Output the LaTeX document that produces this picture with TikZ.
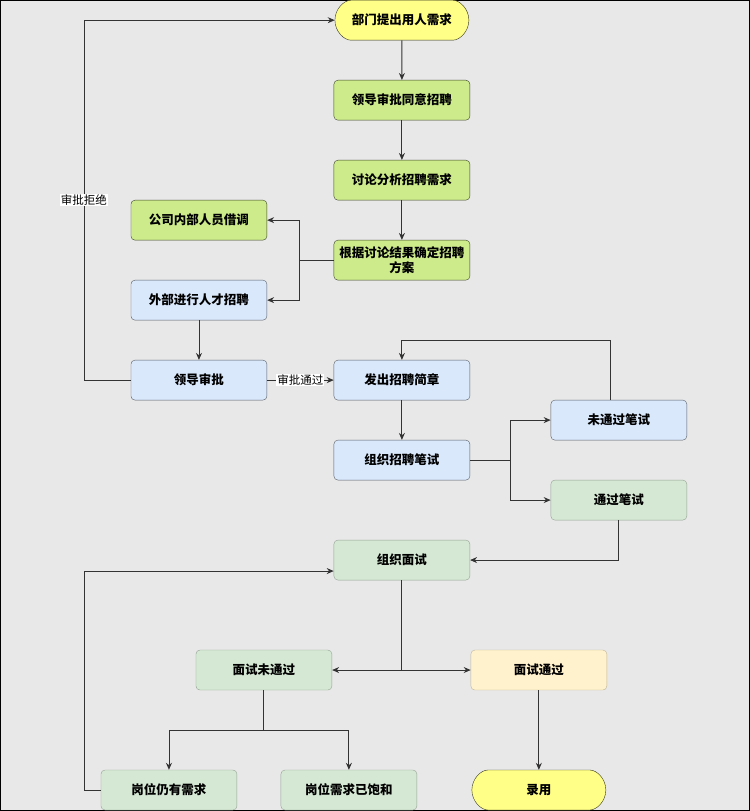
\documentclass[tikz,border=0pt]{standalone}
\usepackage{fontspec}
\setmainfont{Noto Sans CJK SC}
\usetikzlibrary{arrows.meta,shapes.misc}
\definecolor{bg}{HTML}{E8E8E8}
\definecolor{yel}{HTML}{FFFF88}
\definecolor{lg}{HTML}{CDEB8B}
\definecolor{bl}{HTML}{DAE8FC}
\definecolor{pg}{HTML}{D5E8D4}
\definecolor{or}{HTML}{FFF2CC}
\begin{document}
\begin{tikzpicture}[x=1pt,y=-1pt,
  box/.style={draw, rounded corners=4pt, minimum width=136pt, minimum height=40pt, align=center, font=\fontsize{12.5}{15}\selectfont\bfseries, inner sep=1pt},
  gbox/.style={box, fill=lg, draw=black!70!lg},
  bbox/.style={box, fill=bl, draw=black!60!bl},
  pbox/.style={box, fill=pg, draw=black!30!pg},
  obox/.style={box, fill=or, draw=black!25!or},
  term/.style={box, rounded rectangle, fill=yel, draw=black!80!yel},
  lab/.style={fill=white, inner sep=1pt, font=\fontsize{11.5}{13}\selectfont},
  ar/.style={-{Stealth[length=7pt,width=6pt]}, draw=black!80, line width=0.9pt},
  ln/.style={draw=black!80, line width=0.9pt}]
\fill[bg, draw=black, line width=1pt] (0.5,0.5) rectangle (749.5,810.5);
\node[term] (A) at (402,20) {部门提出用人需求};
\node[gbox] (B) at (402,100) {领导审批同意招聘};
\node[gbox] (C) at (402,180) {讨论分析招聘需求};
\node[gbox] (D) at (402,260) {根据讨论结果确定招聘\\方案};
\node[gbox] (E) at (199,220) {公司内部人员借调};
\node[bbox] (F) at (199,300) {外部进行人才招聘};
\node[bbox] (G) at (199,380) {领导审批};
\node[bbox] (H) at (402,380) {发出招聘简章};
\node[bbox] (I) at (402,460) {组织招聘笔试};
\node[bbox] (J) at (619,420) {未通过笔试};
\node[pbox] (K) at (619,500) {通过笔试};
\node[pbox] (L) at (402,560) {组织面试};
\node[pbox] (M) at (264,670) {面试未通过};
\node[obox] (N) at (539,670) {面试通过};
\node[pbox] (O) at (169,790) {岗位仍有需求};
\node[pbox] (P) at (349,790) {岗位需求已饱和};
\node[term] (Q) at (539,790) {录用};
\coordinate (g1) at (84,380); \coordinate (g2) at (84,20);
\draw[ar] (G.west) -- (g1) -- node[lab, pos=0.5] {审批拒绝} (g2) -- (A.west);
\draw[ar] (A) -- (B);
\draw[ar] (B) -- (C);
\draw[ar] (C) -- (D);
\coordinate (d1) at (300,260);
\draw[ln] (D.west) -- (d1);
\draw[ar] (d1) |- (E.east);
\draw[ar] (d1) |- (F.east);
\draw[ar] (F) -- (G);
\draw[ar] (G) -- node[lab] {审批通过} (H);
\draw[ar] (H) -- (I);
\coordinate (j0) at (611,400);
\draw[ar] (j0) -- (611,340) -| (H.north);
\coordinate (i1) at (511,460);
\draw[ln] (I.east) -- (i1);
\draw[ar] (i1) |- (J.west);
\draw[ar] (i1) |- (K.west);
\draw[ar] (K.south) |- (L.east);
\coordinate (l1) at (402,670);
\draw[ln] (L.south) -- (l1);
\draw[ar] (l1) -- (M.east);
\draw[ar] (l1) -- (N.west);
\coordinate (m1) at (264,730);
\draw[ln] (M.south) -- (m1);
\draw[ar] (m1) -| (O.north);
\draw[ar] (m1) -| (P.north);
\draw[ar] (O.west) -- (84,790) |- (L.west |- 0,571);
\draw[ar] (N) -- (Q);
\end{tikzpicture}
\end{document}
